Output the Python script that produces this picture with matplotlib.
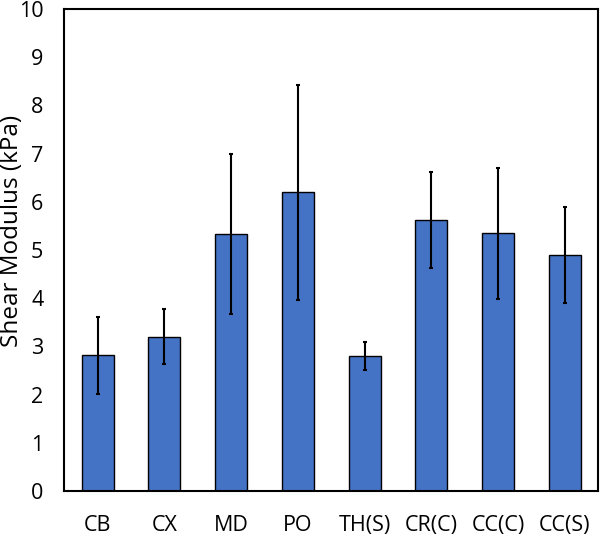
import matplotlib.pyplot as plt

plt.rcParams['font.family'] = ['Open Sans', 'DejaVu Sans']

# data
groups = ['CB', 'CX', 'MD', 'PO', 'TH(S)', 'CR(C)', 'CC(C)', 'CC(S)']
modulus = [2.82, 3.20, 5.33, 6.20, 2.81, 5.62, 5.35, 4.90]
err = [0.80, 0.57, 1.66, 2.23, 0.29, 0.99, 1.36, 0.99]

fig = plt.figure(figsize=(6, 5.36), dpi=100)
ax = fig.add_axes([0.107, 0.084, 0.89, 0.899])

x = range(len(groups))
ax.bar(x, modulus, width=0.48, color='#4472C4', edgecolor='black', linewidth=1,
       yerr=err, error_kw={'ecolor': 'black', 'elinewidth': 1.5, 'capsize': 1.5, 'capthick': 1.5})

ax.set_xlim(-0.5, len(groups) - 0.5)
ax.set_ylim(0, 10)
ax.set_yticks(range(0, 11))
ax.set_xticks(list(x), groups)
ax.tick_params(axis='both', length=0, labelsize=15.5)
ax.tick_params(axis='x', pad=17)
ax.tick_params(axis='y', pad=15)
fig.text(0.02, 0.57, 'Shear Modulus (kPa)', fontsize=17.5, rotation=90,
         ha='center', va='center')
for s in ax.spines.values():
    s.set_linewidth(1.5)

fig.savefig('out.png')
